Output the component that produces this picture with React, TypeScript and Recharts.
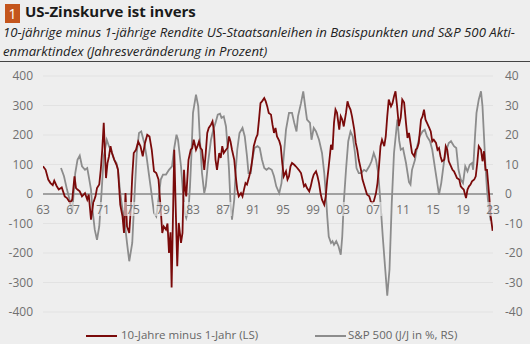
import { LineChart, Line, XAxis, YAxis, CartesianGrid, ReferenceLine } from "recharts";

// 10y minus 1y US Treasury yield spread, basis points (left scale)
const spreadYears = [
  1963.0, 1963.35, 1963.7, 1964.0, 1964.3, 1964.5, 1964.8, 1965.1, 1965.5, 1965.9,
  1966.2, 1966.6, 1966.9, 1967.2, 1967.4, 1967.6, 1967.9, 1968.2, 1968.6, 1968.9,
  1969.1, 1969.4, 1969.7, 1970.0, 1970.2, 1970.5, 1970.7, 1970.9, 1971.1, 1971.4,
  1971.6, 1971.8, 1972.0, 1972.2, 1972.5, 1972.8, 1973.0, 1973.3, 1973.6, 1973.8,
  1974.0, 1974.2, 1974.5, 1974.7, 1974.9, 1975.1, 1975.4, 1975.7, 1976.0, 1976.3,
  1976.6, 1976.9, 1977.2, 1977.5, 1977.8, 1978.1, 1978.4, 1978.7, 1978.9, 1979.1,
  1979.4, 1979.6, 1979.8, 1980.0, 1980.15, 1980.5, 1980.7, 1980.9, 1981.1, 1981.4,
  1981.6, 1981.8, 1981.95, 1982.1, 1982.4, 1982.7, 1982.9, 1983.1, 1983.4, 1983.6,
  1983.8, 1984.0, 1984.2, 1984.5, 1984.7, 1984.9, 1985.1, 1985.4, 1985.6, 1985.8,
  1986.0, 1986.2, 1986.5, 1986.7, 1986.9, 1987.1, 1987.4, 1987.6, 1987.8, 1988.0,
  1988.2, 1988.5, 1988.7, 1988.9, 1989.1, 1989.4, 1989.6, 1989.8, 1990.0, 1990.2,
  1990.5, 1990.7, 1990.9, 1991.1, 1991.4, 1991.6, 1991.8, 1992.0, 1992.2, 1992.5,
  1992.7, 1992.9, 1993.1, 1993.4, 1993.6, 1993.8, 1994.0, 1994.2, 1994.5, 1994.7,
  1994.9, 1995.1, 1995.4, 1995.6, 1995.8, 1996.0, 1996.2, 1996.5, 1996.7, 1996.9,
  1997.1, 1997.4, 1997.6, 1997.8, 1998.0, 1998.2, 1998.5, 1998.7, 1998.9, 1999.1,
  1999.4, 1999.6, 1999.8, 2000.0, 2000.2, 2000.5, 2000.7, 2000.9, 2001.1, 2001.4,
  2001.6, 2001.8, 2002.0, 2002.2, 2002.5, 2002.7, 2002.9, 2003.1, 2003.4, 2003.6,
  2003.8, 2004.0, 2004.2, 2004.5, 2004.7, 2004.9, 2005.1, 2005.4, 2005.6, 2005.8,
  2006.0, 2006.2, 2006.5, 2006.7, 2006.9, 2007.1, 2007.4, 2007.6, 2007.8, 2008.0,
  2008.2, 2008.5, 2008.7, 2008.9, 2009.1, 2009.4, 2009.6, 2009.8, 2010.0, 2010.2,
  2010.45, 2010.7, 2010.9, 2011.15, 2011.4, 2011.6, 2011.8, 2012.0, 2012.2, 2012.5,
  2012.7, 2012.9, 2013.1, 2013.4, 2013.6, 2013.8, 2014.0, 2014.2, 2014.5, 2014.7,
  2014.9, 2015.1, 2015.4, 2015.6, 2015.8, 2016.0, 2016.2, 2016.5, 2016.7, 2016.9,
  2017.1, 2017.4, 2017.6, 2017.8, 2018.0, 2018.2, 2018.5, 2018.7, 2018.9, 2019.1,
  2019.4, 2019.6, 2019.8, 2020.0, 2020.2, 2020.5, 2020.7, 2020.9, 2021.1, 2021.4,
  2021.6, 2021.8, 2022.0, 2022.2, 2022.5, 2022.7, 2022.95,
];
const spreadBp = [
  94, 82, 49, 37, 30, 45, 28, 15, 22, -8,
  -14, -30, -19, 60, 20, 15, 9, -8, 3, -19,
  -2, -87, -30, -8, 20, 32, 82, 150, 241, 54,
  105, 128, 162, 139, 116, 99, 82, -36, -76, -132,
  3, -110, -132, -53, 60, 139, 150, 178, 162, 128,
  173, 201, 195, 150, 77, 71, 49, -53, -132, -110,
  -121, -100, -200, -130, -317, 150, -53, -245, -98, -166,
  -132, 82, 15, -8, 116, 150, 156, 184, 150, 162,
  178, 156, 150, 82, 139, 207, 224, 235, 246, 212,
  116, 82, 139, 122, 162, 139, 150, 156, 195, 178,
  150, 116, 60, 15, -8, 3, -8, 15, 37, 32,
  60, 82, 116, 162, 190, 201, 252, 308, 314, 325,
  314, 297, 275, 269, 235, 207, 224, 195, 180, 162,
  105, 60, 77, 49, 60, 94, 105, 99, 94, 88,
  82, 71, 49, 26, 32, 20, 9, 26, 49, 66,
  77, 60, 37, 3, -19, -36, -8, 49, 94, 167,
  150, 241, 286, 275, 218, 263, 252, 229, 275, 314,
  297, 286, 263, 218, 173, 150, 116, 82, 49, 32,
  15, -2, -8, -25, -30, -25, 3, 37, 94, 162,
  184, 162, 195, 263, 320, 297, 308, 331, 348, 300,
  230, 260, 320, 310, 240, 190, 207, 173, 139, 128,
  150, 156, 173, 252, 263, 286, 252, 241, 224, 212,
  178, 184, 173, 150, 156, 128, 111, 116, 162, 150,
  111, 94, 82, 77, 66, 54, 49, 26, 20, 15,
  -14, 15, 26, 32, 43, 49, 60, 105, 162, 150,
  111, 145, 82, 82, -8, -76, -125,
];

// S&P 500, year-on-year change in % (right scale)
const spxYears = [
  1965.4, 1965.8, 1966.2, 1966.6, 1966.9, 1967.3, 1967.6, 1967.9, 1968.2, 1968.6,
  1968.9, 1969.1, 1969.4, 1969.6, 1969.9, 1970.2, 1970.5, 1970.8, 1971.1, 1971.5,
  1971.8, 1972.2, 1972.5, 1972.8, 1973.0, 1973.3, 1973.6, 1973.9, 1974.2, 1974.5,
  1974.9, 1975.2, 1975.5, 1975.8, 1976.1, 1976.5, 1976.8, 1977.1, 1977.4, 1977.8,
  1978.1, 1978.4, 1978.7, 1979.0, 1979.4, 1979.8, 1980.2, 1980.5, 1980.8, 1981.0,
  1981.4, 1981.7, 1981.9, 1982.1, 1982.4, 1982.6, 1982.8, 1983.0, 1983.4, 1983.7,
  1983.9, 1984.2, 1984.5, 1984.7, 1985.0, 1985.4, 1985.7, 1986.0, 1986.3, 1986.6,
  1986.8, 1987.1, 1987.4, 1987.6, 1987.8, 1988.0, 1988.2, 1988.5, 1988.7, 1988.9,
  1989.2, 1989.6, 1989.9, 1990.2, 1990.4, 1990.7, 1990.9, 1991.2, 1991.6, 1991.9,
  1992.2, 1992.5, 1992.8, 1993.1, 1993.5, 1993.8, 1994.1, 1994.5, 1994.8, 1995.1,
  1995.4, 1995.8, 1996.2, 1996.5, 1996.8, 1997.0, 1997.4, 1997.7, 1997.9, 1998.2,
  1998.6, 1998.8, 1999.1, 1999.4, 1999.8, 2000.2, 2000.5, 2000.7, 2000.9, 2001.1,
  2001.4, 2001.6, 2001.8, 2002.1, 2002.4, 2002.7, 2002.9, 2003.1, 2003.4, 2003.7,
  2004.0, 2004.3, 2004.6, 2004.8, 2005.1, 2005.4, 2005.8, 2006.1, 2006.5, 2006.8,
  2007.1, 2007.4, 2007.7, 2008.0, 2008.3, 2008.6, 2008.9, 2009.2, 2009.5, 2009.8,
  2010.25, 2010.5, 2010.7, 2011.0, 2011.4, 2011.8, 2012.0, 2012.2, 2012.6, 2012.9,
  2013.2, 2013.6, 2013.9, 2014.2, 2014.6, 2014.9, 2015.3, 2015.6, 2015.8, 2016.1,
  2016.5, 2016.8, 2017.1, 2017.4, 2017.8, 2018.1, 2018.4, 2018.7, 2019.0, 2019.3,
  2019.6, 2019.9, 2020.2, 2020.35, 2020.6, 2020.8, 2021.1, 2021.4, 2021.6, 2021.8,
  2022.0, 2022.2, 2022.5, 2022.7,
];
const spxPct = [
  8.8, 6.0, 1.5, -2.5, -6.0, 7.1, 11.6, 13.0, 9.4, 8.2,
  8.8, 6.0, 1.5, -5.3, -12.1, -15.5, -11.0, 0.3, 12.8, 18.4,
  16.2, 13.9, 11.6, 10.5, 8.2, 0.3, -5.3, -9.8, -16.6, -22.8,
  -16.6, -0.8, 13.9, 20.7, 21.2, 17.3, 12.8, 7.1, 1.5, -6.4,
  -7.6, -1.9, 4.9, 6.6, 6.6, 8.2, 9.4, 15.6, 20.1, 18.4,
  9.4, -0.8, -6.4, -8.1, -5.3, 2.6, 13.9, 27.5, 33.7, 29.7,
  19.5, 7.1, 0.3, 2.6, 10.5, 18.4, 21.8, 24.1, 26.9, 27.2,
  25.8, 26.3, 22.9, 16.2, 8.2, -3.1, -8.7, -1.9, 8.2, 15.0,
  20.7, 22.4, 19.5, 12.8, 7.1, 7.1, 11.6, 15.6, 16.2, 15.6,
  11.6, 8.8, 8.2, 8.8, 8.2, 6.0, 2.6, 0.3, 3.7, 12.8,
  21.8, 27.5, 27.5, 24.1, 21.2, 26.3, 30.8, 34.8, 30.8, 25.2,
  24.1, 18.4, 22.4, 21.2, 18.4, 13.9, 7.1, 0.3, -7.6, -14.4,
  -16.6, -16.0, -17.2, -16.0, -17.7, -20.6, -14.4, -3.1, 8.2, 17.9,
  21.2, 19.5, 13.9, 8.8, 7.1, 7.1, 8.2, 7.7, 9.4, 11.1,
  13.9, 11.6, 7.1, -3.1, -14.4, -24.5, -34.5, -25.6, -3.1, 13.9,
  25.2, 18.0, 15.0, 15.5, 10.5, 4.0, 3.2, 8.2, 11.6, 16.2,
  19.5, 21.2, 21.8, 19.5, 17.9, 15.0, 8.2, 3.2, -0.2, 3.7,
  11.6, 15.0, 17.3, 17.9, 16.2, 15.6, 8.2, 4.9, 3.7, 9.4,
  7.7, 9.9, 10.5, 8.2, 19.5, 27.5, 32.0, 34.8, 29.7, 19.5,
  9.4, 1.5, -6.4, -9.0,
];

const xTicks = [1963, 1967, 1971, 1975, 1979, 1983, 1987, 1991, 1995, 1999, 2003, 2007, 2011, 2015, 2019, 2023];
const leftTicks = [-400, -300, -200, -100, 0, 100, 200, 300, 400];
const rightTicks = [-40, -30, -20, -10, 0, 10, 20, 30, 40];

const spreadData = spreadYears.map((year, i) => ({ year, spread: spreadBp[i] }));
const spxData = spxYears.map((year, i) => ({ year, spx: spxPct[i] }));

const BG = "#eeeeee";
const RED = "#7a0a0a";
const GREY = "#8c8c8c";
const FONT = "'Open Sans', sans-serif";
const TICK = { fontSize: 12, fill: "#707070", fontFamily: FONT };

const CHART_TOP = 76;
const XAXIS_H = 20;
const CHART_BOTTOM = 32 - XAXIS_H;
const PLOT_H = 344 - CHART_TOP - CHART_BOTTOM - XAXIS_H;

// year labels sit just under the zero line, not at the bottom of the plot
function YearTick(props: any) {
  const { x, y, payload } = props;
  const label = String(payload.value % 100).padStart(2, "0");
  const cy = y - PLOT_H / 2 + 15;
  return (
    <g>
      <rect x={x - 9} y={cy - 7} width={18} height={14} fill={BG} fillOpacity={0.6} />
      <text x={x} y={cy} dy={4.5} textAnchor="middle" {...TICK}>
        {label}
      </text>
    </g>
  );
}

export default function App() {
  return (
    <div style={{ position: "relative", width: 530, height: 344, background: BG, fontFamily: FONT, overflow: "hidden" }}>
      <style>{"body{margin:0}"}</style>
      <div style={{ position: "absolute", left: 5, top: 4, width: 15, height: 19, background: "#c4551c", color: "#fff", fontSize: 14, lineHeight: "19px", textAlign: "center" }}>
        1
      </div>
      <div style={{ position: "absolute", left: 25, top: 1, fontSize: 15, fontWeight: 700, color: "#1a1a1a", whiteSpace: "nowrap" }}>
        US-Zinskurve ist invers
      </div>
      <div style={{ position: "absolute", left: 3, top: 23, fontSize: 13.2, fontStyle: "italic", color: "#222", lineHeight: "19px", whiteSpace: "nowrap" }}>
        10-jährige minus 1-jährige Rendite US-Staatsanleihen in Basispunkten und S&amp;P 500 Akti-
        <br />
        enmarktindex (Jahresveränderung in Prozent)
      </div>
      <div style={{ position: "absolute", left: 0, top: 61, width: 530, height: 1, background: "#444" }} />

      <div style={{ position: "absolute", left: 0, top: 0 }}>
        <LineChart width={530} height={344} margin={{ top: CHART_TOP, right: 0, bottom: CHART_BOTTOM, left: 0 }}>
          <CartesianGrid yAxisId="left" vertical={false} stroke="#e2e2e2" strokeWidth={1} />
          <YAxis
            yAxisId="left"
            width={43}
            domain={[-400, 400]}
            ticks={leftTicks}
            axisLine={false}
            tickLine={false}
            tickSize={0}
            tickMargin={10}
            tick={TICK}
          />
          <YAxis
            yAxisId="right"
            orientation="right"
            width={37}
            domain={[-40, 40]}
            ticks={rightTicks}
            axisLine={false}
            tickLine={false}
            tickSize={0}
            tickMargin={12}
            tick={TICK}
          />
          <ReferenceLine yAxisId="left" y={0} stroke="#5a5a5a" strokeWidth={1} />
          <Line
            yAxisId="right"
            data={spxData}
            dataKey="spx"
            type="linear"
            stroke={GREY}
            strokeWidth={1.8}
            dot={false}
            isAnimationActive={false}
          />
          <Line
            yAxisId="left"
            data={spreadData}
            dataKey="spread"
            type="linear"
            stroke={RED}
            strokeWidth={1.8}
            dot={false}
            isAnimationActive={false}
          />
          <XAxis
            dataKey="year"
            type="number"
            domain={[1963, 2023]}
            ticks={xTicks}
            allowDataOverflow
            axisLine={false}
            tickLine={false}
            tickSize={0}
            tickMargin={0}
            height={XAXIS_H}
            tick={YearTick}
            interval={0}
          />
        </LineChart>
      </div>

      <div style={{ position: "absolute", top: 327, left: 0, width: 530, fontSize: 11.5, color: "#666", whiteSpace: "nowrap" }}>
        <span style={{ position: "absolute", left: 86, top: 8, width: 31, height: 2, background: RED }} />
        <span style={{ position: "absolute", left: 121, top: 0 }}>10-Jahre minus 1-Jahr (LS)</span>
        <span style={{ position: "absolute", left: 315, top: 8, width: 31, height: 2, background: GREY }} />
        <span style={{ position: "absolute", left: 348, top: 0 }}>S&amp;P 500 (J/J in %, RS)</span>
      </div>
    </div>
  );
}
